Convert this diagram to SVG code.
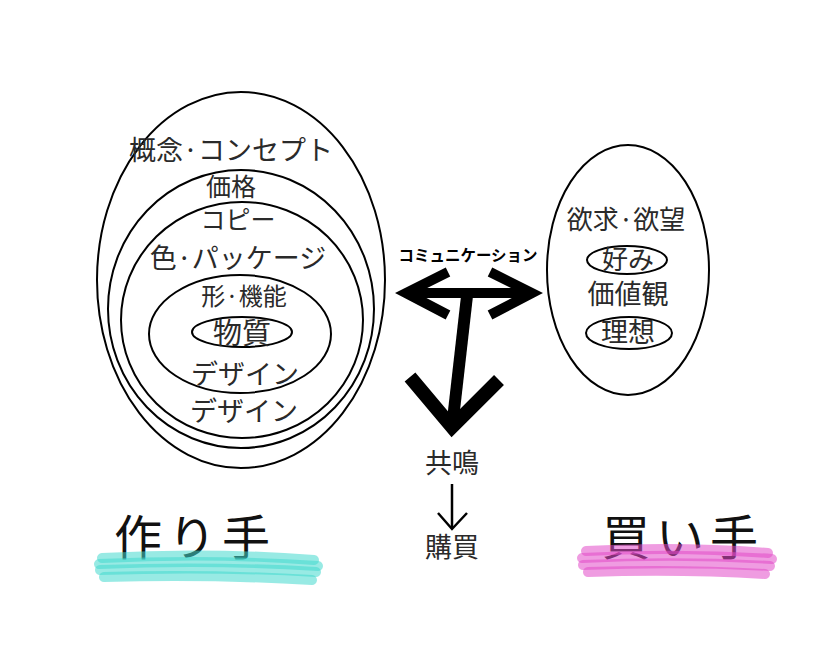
<svg xmlns="http://www.w3.org/2000/svg" width="828" height="662" viewBox="0 0 828 662">
<style>
.e{fill:none;stroke:#000;stroke-width:2}
.t{font-family:"Noto Sans CJK JP","Noto Sans",sans-serif;fill:#2a2a2a;text-anchor:middle;font-size:27px}
.big{font-family:"Noto Sans CJK JP","Noto Sans",sans-serif;fill:#111;text-anchor:middle;font-size:48px;letter-spacing:6px}
.thick{fill:none;stroke:#000;stroke-linecap:butt;stroke-linejoin:miter}
.hc{fill:none;stroke:#44d8ce;stroke-width:10;stroke-linecap:round;opacity:0.55}
.hp{fill:none;stroke:#e24bc8;stroke-width:10;stroke-linecap:round;opacity:0.55}
</style>
<rect width="828" height="662" fill="#fff"/>
<g id="maker">
<ellipse class="e" cx="241" cy="280" rx="144" ry="188"/>
<text class="t" x="231" y="160">概念·コンセプト</text>
</g>
<g id="price">
<ellipse class="e" cx="241" cy="309" rx="133" ry="139"/>
<text class="t" x="231" y="196" style="font-size:25px">価格</text>
</g>
<g id="copy">
<ellipse class="e" cx="242" cy="320" rx="121" ry="118"/>
<text class="t" x="238" y="229" style="font-size:25px">コピー</text>
<text class="t" x="238" y="268">色·パッケージ</text>
<text class="t" x="244" y="421">デザイン</text>
</g>
<g id="form">
<ellipse class="e" cx="240" cy="334" rx="91" ry="59"/>
<text class="t" x="244" y="305" style="font-size:24px">形·機能</text>
<text class="t" x="245" y="384">デザイン</text>
</g>
<g id="matter">
<ellipse class="e" cx="242" cy="332" rx="50" ry="15"/>
<text class="t" x="242" y="344" style="font-size:29px">物質</text>
</g>
<g id="buyer">
<ellipse class="e" cx="628" cy="270" rx="81" ry="125"/>
<text class="t" x="626" y="229" style="font-size:26px">欲求·欲望</text>
<text class="t" x="628" y="304">価値観</text>
</g>
<g id="like">
<ellipse class="e" cx="627" cy="260" rx="40" ry="14"/>
<text class="t" x="628" y="269" style="font-size:26px">好み</text>
</g>
<g id="ideal">
<ellipse class="e" cx="629" cy="333" rx="43" ry="16"/>
<text class="t" x="628" y="342">理想</text>
</g>
<g id="connectors">
<text x="468" y="261" style="font-family:'Noto Sans CJK JP',sans-serif;font-weight:bold;font-size:15.5px;text-anchor:middle;fill:#000">コミュニケーション</text>
<line class="thick" x1="405" y1="293" x2="533" y2="293" stroke-width="10"/>
<polyline class="thick" points="448,272 406,293 448,315" stroke-width="10"/>
<polyline class="thick" points="490,272 532,293 490,315" stroke-width="10"/>
<polygon points="461,296 473,296 458,428 446,428" fill="#000"/>
<polyline class="thick" points="410,377 452,427 499,380" stroke-width="14"/>
<text class="t" x="452" y="473">共鳴</text>
<line x1="452" y1="484" x2="452" y2="528" stroke="#000" stroke-width="2.5"/>
<polyline points="438,513 452,529 467,513" fill="none" stroke="#000" stroke-width="2.5"/>
<text class="t" x="452" y="557">購買</text>
</g>
<g id="maker-label">
<text class="big" x="195" y="555">作り手</text>
<path class="hc" d="M102,558 Q210,552 314,560"/>
<path class="hc" d="M99,564 Q210,559 318,566"/>
<path class="hc" d="M100,570 Q210,566 316,572"/>
<path class="hc" d="M104,577 Q210,574 312,580"/>
</g>
<g id="buyer-label">
<text class="big" x="683" y="555">買い手</text>
<path class="hp" d="M586,551 Q680,546 768,553"/>
<path class="hp" d="M582,558 Q680,553 772,559"/>
<path class="hp" d="M583,565 Q680,561 770,566"/>
<path class="hp" d="M588,572 Q680,569 765,574"/>
</g>
</svg>
